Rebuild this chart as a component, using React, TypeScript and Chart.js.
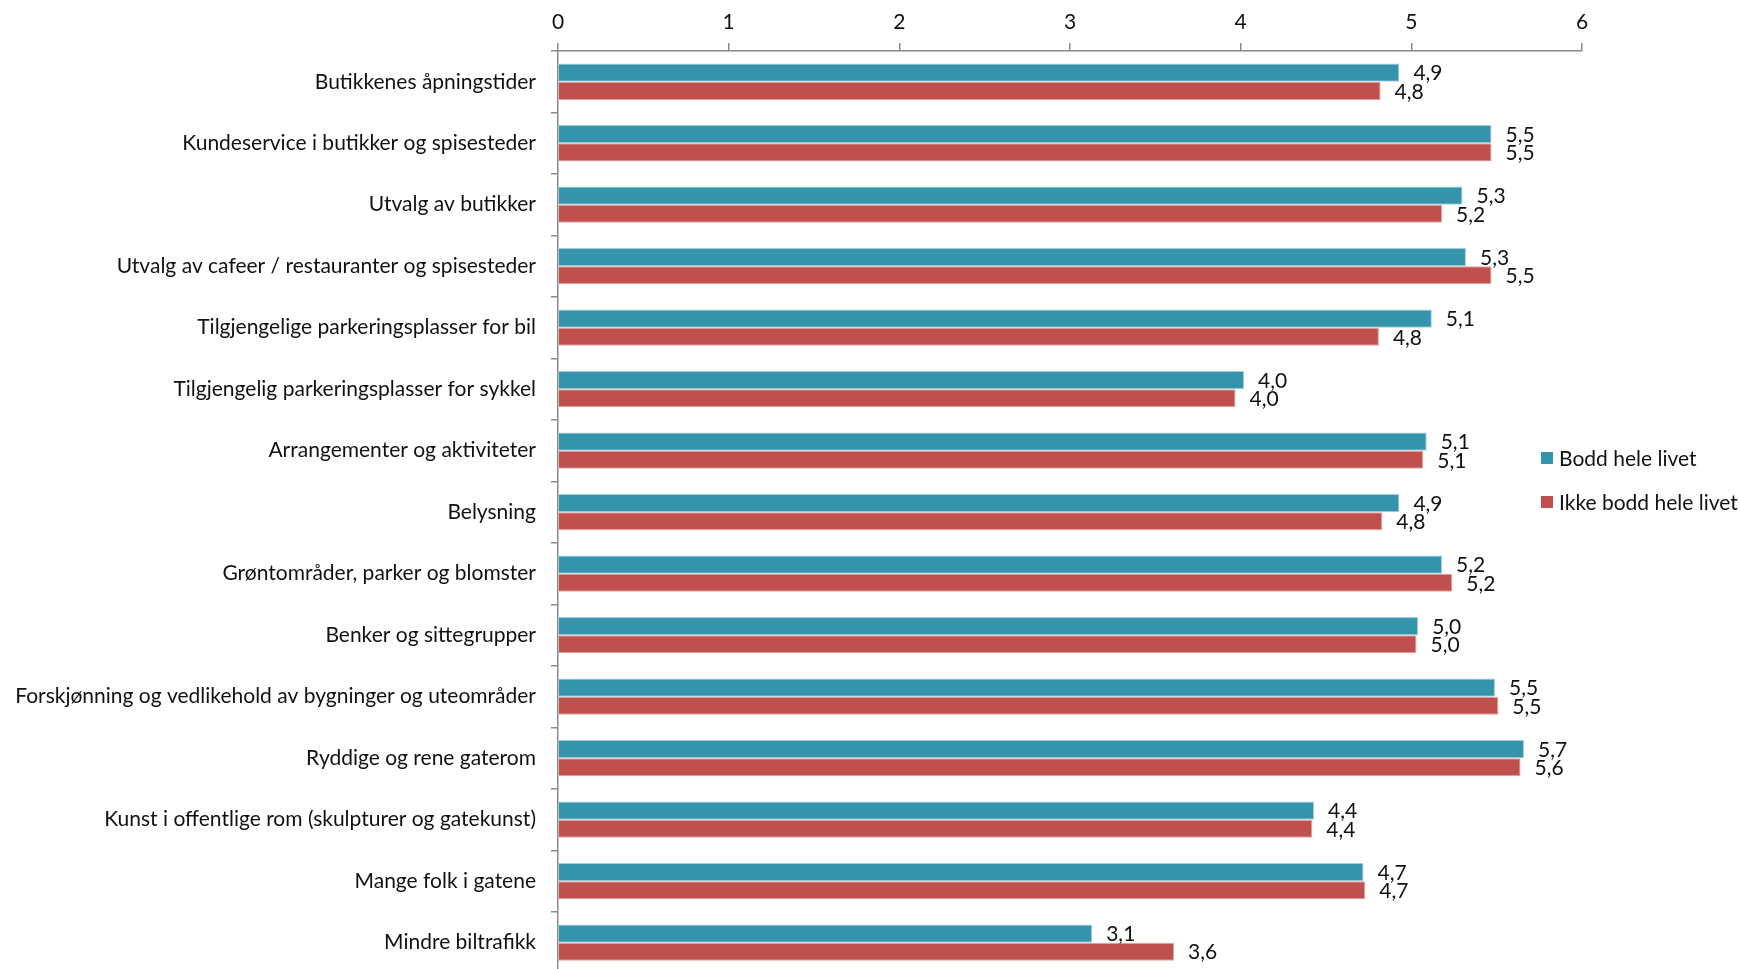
import React, { useEffect, useRef } from "react";
import { Chart, registerables } from "chart.js";

Chart.register(...registerables);

const categories = [
  "Butikkenes åpningstider",
  "Kundeservice i butikker og spisesteder",
  "Utvalg av butikker",
  "Utvalg av cafeer / restauranter og spisesteder",
  "Tilgjengelige parkeringsplasser for bil",
  "Tilgjengelig parkeringsplasser for sykkel",
  "Arrangementer og aktiviteter",
  "Belysning",
  "Grøntområder, parker og blomster",
  "Benker og sittegrupper",
  "Forskjønning og vedlikehold av bygninger og uteområder",
  "Ryddige og rene gaterom",
  "Kunst i offentlige rom (skulpturer og gatekunst)",
  "Mange folk i gatene",
  "Mindre biltrafikk",
];

const boddHeleLivet = [4.93, 5.47, 5.30, 5.32, 5.12, 4.02, 5.09, 4.93, 5.18, 5.04, 5.49, 5.66, 4.43, 4.72, 3.13];
const ikkeBoddHeleLivet = [4.82, 5.47, 5.18, 5.47, 4.81, 3.97, 5.07, 4.83, 5.24, 5.03, 5.51, 5.64, 4.42, 4.73, 3.61];

const seriesLabels = ["Bodd hele livet", "Ikke bodd hele livet"];
const seriesColors = ["#3693AC", "#C0504D"];
const seriesBorders = ["#9FD0DE", "#E3A3A1"];
const xTicks = [0, 1, 2, 3, 4, 5, 6];

const FONT = "Lato, 'Open Sans', sans-serif";
const FONT_SIZE = 21;
const TEXT_COLOR = "#111111";
const AXIS_COLOR = "#8a8a8a";

const fmt = (v: number) => v.toFixed(1).replace(".", ",");

const valueLabels = {
  id: "valueLabels",
  afterDatasetsDraw(chart: any) {
    const ctx = chart.ctx;
    ctx.save();
    ctx.font = `${FONT_SIZE}px ${FONT}`;
    ctx.fillStyle = TEXT_COLOR;
    ctx.textAlign = "left";
    ctx.textBaseline = "middle";
    chart.data.datasets.forEach((ds: any, di: number) => {
      const meta = chart.getDatasetMeta(di);
      meta.data.forEach((bar: any, i: number) => {
        ctx.fillText(fmt(ds.data[i]), bar.x + 14, bar.y + 1);
      });
    });
    ctx.restore();
  },
};

const customLegend = {
  id: "customLegend",
  afterDraw(chart: any) {
    const ctx = chart.ctx;
    ctx.save();
    ctx.font = `${FONT_SIZE}px ${FONT}`;
    ctx.textAlign = "left";
    ctx.textBaseline = "middle";
    const x = 1541;
    const ys = [458, 502];
    chart.data.datasets.forEach((ds: any, i: number) => {
      ctx.fillStyle = ds.backgroundColor;
      ctx.fillRect(x, ys[i] - 6, 12, 12);
      ctx.fillStyle = TEXT_COLOR;
      ctx.fillText(ds.label, x + 18, ys[i] + 1);
    });
    ctx.restore();
  },
};

export default function App() {
  const ref = useRef<HTMLCanvasElement | null>(null);
  useEffect(() => {
    document.body.style.margin = "0";
    document.body.style.overflow = "hidden";
    if (!ref.current) return;
    const chart = new Chart(ref.current, {
      type: "bar",
      data: {
        labels: categories,
        datasets: [
          {
            label: seriesLabels[0],
            data: boddHeleLivet,
            backgroundColor: seriesColors[0],
            borderColor: seriesBorders[0],
            borderWidth: 1,
            categoryPercentage: 0.59,
            barPercentage: 1,
          },
          {
            label: seriesLabels[1],
            data: ikkeBoddHeleLivet,
            backgroundColor: seriesColors[1],
            borderColor: seriesBorders[1],
            borderWidth: 1,
            categoryPercentage: 0.59,
            barPercentage: 1,
          },
        ],
      },
      options: {
        indexAxis: "y",
        animation: false,
        responsive: false,
        maintainAspectRatio: false,
        layout: { padding: { left: 0, right: 158, top: 0, bottom: 0 } },
        plugins: {
          legend: { display: false },
          tooltip: { enabled: false },
        },
        scales: {
          x: {
            position: "top",
            min: 0,
            max: 6,
            afterBuildTicks: (scale: any) => {
              scale.ticks = xTicks.map((v) => ({ value: v }));
            },
            afterFit: (scale: any) => {
              scale.height = 51;
            },
            ticks: {
              font: { family: FONT, size: FONT_SIZE },
              color: TEXT_COLOR,
              padding: 8,
            },
            grid: {
              drawOnChartArea: false,
              drawTicks: true,
              tickLength: 8,
              color: AXIS_COLOR,
              lineWidth: 1.5,
            },
            border: { color: AXIS_COLOR, width: 1.5 },
          },
          y: {
            afterFit: (scale: any) => {
              scale.width = 558;
            },
            ticks: {
              font: { family: FONT, size: FONT_SIZE },
              color: TEXT_COLOR,
              padding: 15,
            },
            grid: {
              drawOnChartArea: false,
              drawTicks: true,
              tickLength: 7,
              offset: true,
              color: AXIS_COLOR,
              lineWidth: 1.5,
            },
            border: { color: AXIS_COLOR, width: 1.5 },
          },
        },
      },
      plugins: [valueLabels, customLegend],
    });
    return () => chart.destroy();
  }, []);
  return (
    <div style={{ width: 1740, height: 969, overflow: "hidden" }}>
      <canvas ref={ref} width={1740} height={1001} style={{ display: "block" }} />
    </div>
  );
}
